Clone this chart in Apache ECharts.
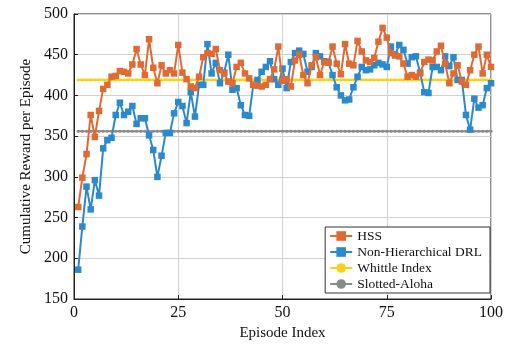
<!DOCTYPE html>
<html>
<head>
<meta charset="utf-8">
<script src="https://cdn.jsdelivr.net/npm/echarts@6/dist/echarts.min.js"></script>
<style>
html,body{margin:0;padding:0;background:#fff;}
#c{width:514px;height:346px;}
</style>
</head>
<body>
<div id="c"></div>
<script>
// Episode indices 1..100
const episodes = [];
for (let i = 1; i <= 100; i++) episodes.push(i);

const hss = [263,299,328,376,349,381,408,413,423,424,
430,429,427,438,457,438,425,469,434,415,
437,427,431,427,462,428,420,411,409,423,
447,452,451,457,431,427,417,415,435,440,
427,421,413,412,411,413,420,432,460,418,
420,411,443,450,425,415,437,447,425,441,
440,460,439,426,463,439,437,467,454,443,
441,446,466,483,471,452,449,448,439,423,
425,423,427,441,444,443,454,461,439,415,
427,437,417,413,431,450,460,427,450,435];

const drl = [186,239,288,260,296,277,335,345,348,376,
391,376,380,387,365,372,372,351,333,300,
326,354,354,378,392,387,366,404,374,413,
413,463,427,440,415,428,450,407,409,388,
376,375,413,419,429,435,442,420,413,433,
409,441,452,455,451,429,435,452,448,442,
441,425,410,400,394,395,410,423,435,431,
432,437,440,438,435,460,450,462,456,439,
447,448,428,404,403,435,435,431,448,436,
447,419,419,376,358,396,385,388,409,415];

const whittleLevel = 419;
const alohaLevel = 356;
const whittle = episodes.map(() => whittleLevel);
const aloha = episodes.map(() => alohaLevel);

const seriesNames = ['HSS', 'Non-Hierarchical DRL', 'Whittle Index', 'Slotted-Aloha'];
const yTicks = [150, 200, 250, 300, 350, 400, 450, 500];
const xTicks = [0, 25, 50, 75, 100];

const pair = arr => episodes.map((e, i) => [e, arr[i]]);
const FONT = '"Liberation Serif", "DejaVu Serif", serif';

const chart = echarts.init(document.getElementById('c'), null, {renderer: 'canvas'});
chart.setOption({
  animation: false,
  backgroundColor: '#fff',
  grid: {left: 74, right: 23, top: 14, bottom: 47, show: true, borderColor: '#222', borderWidth: 1},
  xAxis: {
    type: 'value', min: xTicks[0], max: xTicks[xTicks.length - 1], interval: 25,
    name: 'Episode Index', nameLocation: 'middle', nameGap: 21,
    nameTextStyle: {fontFamily: FONT, fontSize: 15, color: '#111'},
    axisLine: {show: true, lineStyle: {color: '#222', width: 1}},
    axisTick: {show: true, inside: true, length: 4, lineStyle: {color: '#222'}},
    axisLabel: {fontFamily: FONT, fontSize: 16, color: '#111', margin: 6},
    splitLine: {show: true, lineStyle: {color: '#d2d2d2', width: 1}}
  },
  yAxis: {
    type: 'value', min: yTicks[0], max: yTicks[yTicks.length - 1], interval: 50,
    name: 'Cumulative Reward per Episode', nameLocation: 'middle', nameGap: 40,
    nameTextStyle: {fontFamily: FONT, fontSize: 15, color: '#111'},
    axisLine: {show: true, lineStyle: {color: '#222', width: 1}},
    axisTick: {show: true, inside: true, length: 4, lineStyle: {color: '#222'}},
    axisLabel: {fontFamily: FONT, fontSize: 16, color: '#111', margin: 6},
    splitLine: {show: true, lineStyle: {color: '#d2d2d2', width: 1}}
  },
  legend: {
    orient: 'vertical', right: 24, bottom: 53,
    backgroundColor: '#fff', borderColor: '#333', borderWidth: 1,
    padding: [2, 8, 2, 4], itemGap: 2, itemWidth: 22, itemHeight: 12,
    textStyle: {fontFamily: FONT, fontSize: 13.5, color: '#111'},
    data: seriesNames
  },
  series: [
    {name: seriesNames[3], type: 'line', data: pair(aloha), color: '#8a8a8a',
      symbol: 'circle', symbolSize: 3, lineStyle: {width: 2.2}, z: 2},
    {name: seriesNames[2], type: 'line', data: pair(whittle), color: '#f5d316',
      symbol: 'circle', symbolSize: 3, lineStyle: {width: 2.2}, z: 3},
    {name: seriesNames[1], type: 'line', data: pair(drl), color: '#2c89cb',
      symbol: 'rect', symbolSize: 6.5, lineStyle: {width: 2}, z: 4},
    {name: seriesNames[0], type: 'line', data: pair(hss), color: '#e06a34',
      symbol: 'rect', symbolSize: 6.5, lineStyle: {width: 2}, z: 5}
  ]
});
</script>
</body>
</html>
